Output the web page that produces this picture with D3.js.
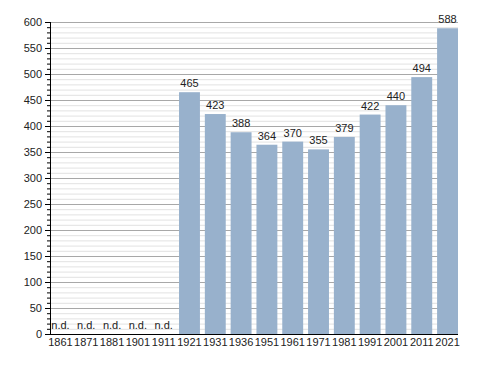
<!DOCTYPE html>
<html><head><meta charset="utf-8">
<script src="https://cdn.jsdelivr.net/npm/d3@7"></script>
<style>body{margin:0;background:#fff}svg{display:block}text{font-family:"Liberation Sans",Arial,sans-serif}</style>
</head><body><svg id="c" width="488" height="373"></svg>
<script>
const years = ["1861","1871","1881","1901","1911","1921","1931","1936","1951","1961","1971","1981","1991","2001","2011","2021"];
const values = [null,null,null,null,null,465,423,388,364,370,355,379,422,440,494,588];
const yTicks = [0,50,100,150,200,250,300,350,400,450,500,550,600];

const svg = d3.select("#c");
const x = d3.scaleBand().domain(years).range([50,458]).paddingInner(0.19).paddingOuter(0);
const y = d3.scaleLinear().domain([0,600]).range([334,22]);

const minor = d3.range(0,601,10);
svg.append("g").selectAll("line").data(minor.filter(v=>v%50!==0)).join("line")
  .attr("x1",50).attr("x2",458).attr("y1",d=>y(d)+0.5).attr("y2",d=>y(d)+0.5)
  .attr("stroke","#e2e2e2").attr("stroke-width",1);
svg.append("g").selectAll("line").data(yTicks.filter(v=>v>0)).join("line")
  .attr("x1",50).attr("x2",458).attr("y1",d=>y(d)+0.5).attr("y2",d=>y(d)+0.5)
  .attr("stroke","#a8a8a8").attr("stroke-width",1);

const data = years.map((yr,i)=>({yr,v:values[i]}));
svg.append("g").selectAll("rect").data(data.filter(d=>d.v!=null)).join("rect")
  .attr("x",d=>x(d.yr)).attr("width",x.bandwidth())
  .attr("y",d=>y(d.v)).attr("height",d=>y(0)-y(d.v))
  .attr("fill","#98b1cc");

svg.append("g").selectAll("text").data(data).join("text")
  .attr("x",d=>x(d.yr)+x.bandwidth()/2)
  .attr("y",d=>d.v==null? y(0)-5 : y(d.v)-5)
  .attr("text-anchor","middle").attr("font-size",11).attr("fill","#222")
  .text(d=>d.v==null?"n.d.":d.v);

// y axis
const ya = svg.append("g");
ya.append("line").attr("x1",50.5).attr("x2",50.5).attr("y1",y(600)).attr("y2",y(0)).attr("stroke","#000");
ya.selectAll("line.mi").data(minor).join("line").attr("class","mi")
  .attr("x1",d=>d%50===0?45:47).attr("x2",50).attr("y1",d=>y(d)+0.5).attr("y2",d=>y(d)+0.5).attr("stroke","#000");
ya.selectAll("text").data(yTicks).join("text")
  .attr("x",42).attr("y",d=>y(d)+4).attr("text-anchor","end").attr("font-size",11).attr("fill","#222").text(d=>d);

// x axis
svg.append("line").attr("x1",50).attr("x2",458).attr("y1",334.5).attr("y2",334.5).attr("stroke","#000");
svg.append("g").selectAll("text").data(years).join("text")
  .attr("x",d=>x(d)+x.bandwidth()/2).attr("y",346).attr("text-anchor","middle")
  .attr("font-size",11).attr("fill","#222").text(d=>d);
</script></body></html>
